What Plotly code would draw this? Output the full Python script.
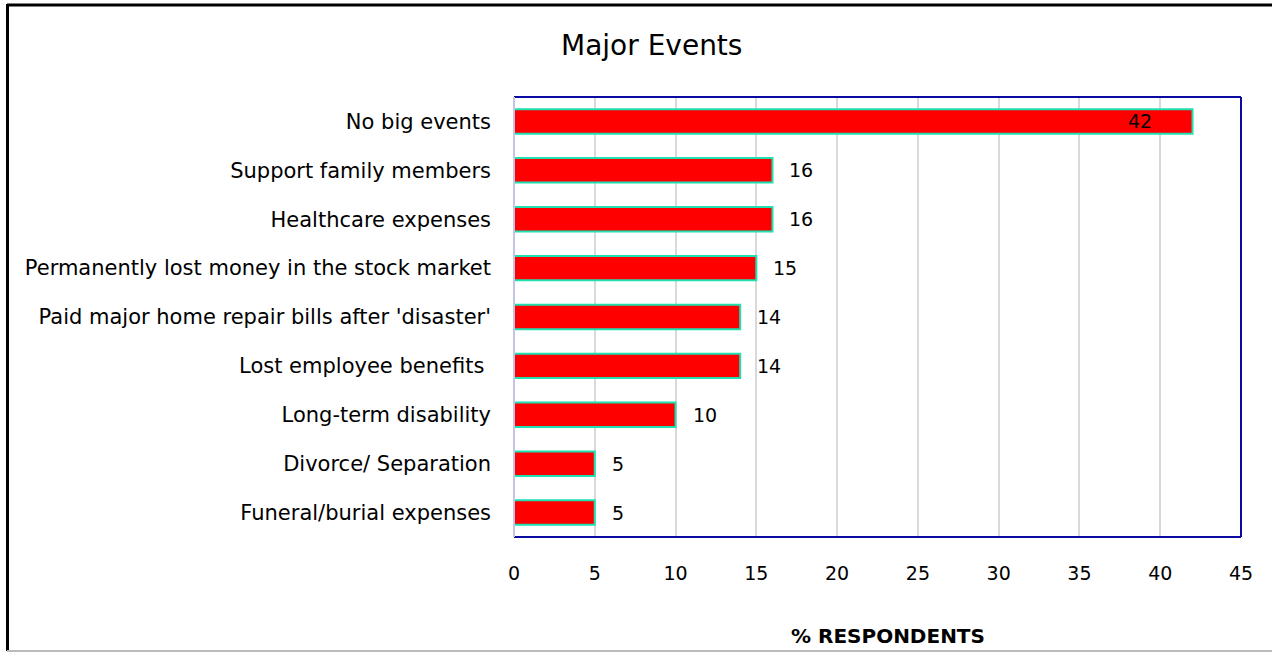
import plotly.graph_objects as go

categories = [
    "No big events",
    "Support family members",
    "Healthcare expenses",
    "Permanently lost money in the stock market",
    "Paid major home repair bills after 'disaster'",
    "Lost employee benefits ",
    "Long-term disability",
    "Divorce/ Separation",
    "Funeral/burial expenses",
]
values = [42, 16, 16, 15, 14, 14, 10, 5, 5]
x_ticks = [0, 5, 10, 15, 20, 25, 30, 35, 40, 45]

W, H = 1272, 652
L, R, T, B = 514, 31, 97, 115
FONT = "DejaVu Sans"

fig = go.Figure()
fig.add_trace(go.Bar(
    x=values, y=categories, orientation="h",
    marker=dict(color="#ff0000", line=dict(color="#1ee0b0", width=2)),
    width=0.5, hoverinfo="x+y",
))

annotations = []
for c, v in zip(categories, values):
    if v >= 40:
        annotations.append(dict(x=v, y=c, xref="x", yref="y", text=str(v), showarrow=False,
                                xanchor="right", xshift=-39, font=dict(size=19, color="black", family=FONT)))
    else:
        annotations.append(dict(x=v, y=c, xref="x", yref="y", text=str(v), showarrow=False,
                                xanchor="left", xshift=15, font=dict(size=19, color="black", family=FONT)))

pw, ph = W - L - R, H - T - B
annotations.append(dict(text="Major Events", x=(651 - L) / pw, y=1 + (T - 45) / ph,
                        xref="paper", yref="paper", showarrow=False, xanchor="center", yanchor="middle",
                        font=dict(size=28, color="black", family=FONT)))
annotations.append(dict(text="<b>% RESPONDENTS</b>", x=(888 - L) / pw, y=-(636 - (H - B)) / ph,
                        xref="paper", yref="paper", showarrow=False, xanchor="center", yanchor="middle",
                        font=dict(size=20, color="black", family=FONT)))

shapes = [
    # outer frame
    dict(type="line", xref="paper", yref="paper", x0=(7 - L) / pw, x1=(W - L) / pw,
         y0=1 + (T - 5) / ph, y1=1 + (T - 5) / ph, line=dict(color="black", width=3)),
    dict(type="line", xref="paper", yref="paper", x0=(7.5 - L) / pw, x1=(7.5 - L) / pw,
         y0=1 + (T - 4) / ph, y1=-(651 - (H - B)) / ph, line=dict(color="black", width=3)),
    dict(type="line", xref="paper", yref="paper", x0=(7 - L) / pw, x1=(W - L) / pw,
         y0=-(651 - (H - B)) / ph, y1=-(651 - (H - B)) / ph, line=dict(color="#bbbbbb", width=2)),
    # plot border (top, right, bottom navy; left light)
    dict(type="line", xref="paper", yref="paper", x0=0, x1=1, y0=1, y1=1, line=dict(color="#0a0aa0", width=2)),
    dict(type="line", xref="paper", yref="paper", x0=1, x1=1, y0=0, y1=1, line=dict(color="#0a0aa0", width=2)),
    dict(type="line", xref="paper", yref="paper", x0=0, x1=1, y0=0, y1=0, line=dict(color="#0a0aa0", width=2)),
    dict(type="line", xref="paper", yref="paper", x0=0, x1=0, y0=0, y1=1, line=dict(color="#c4c4e4", width=2)),
]

fig.update_layout(
    width=W, height=H,
    margin=dict(l=L, r=R, t=T, b=B),
    paper_bgcolor="white", plot_bgcolor="white",
    showlegend=False,
    bargap=0.5,
    font=dict(family=FONT, size=18, color="black"),
    annotations=annotations,
    shapes=shapes,
    xaxis=dict(range=[0, 45], tickvals=x_ticks, showgrid=True, gridcolor="#d9d9d9", gridwidth=2,
               zeroline=False, showline=False, ticks="", tickfont=dict(size=19, family=FONT), ticklabelstandoff=23),
    yaxis=dict(autorange="reversed", showgrid=False, zeroline=False, showline=False, ticks="",
               ticklabelstandoff=22, tickfont=dict(size=21, family=FONT)),
)

fig.write_html("out.html", config={"displayModeBar": False},
               post_script="document.body.style.margin='0';document.body.style.overflow='hidden';")
